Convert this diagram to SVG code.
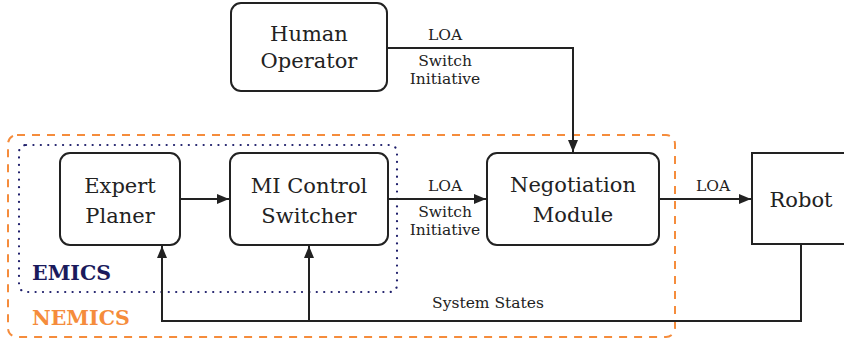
<svg xmlns="http://www.w3.org/2000/svg" width="844" height="342" viewBox="0 0 844 342">
  <defs>
    <marker id="arrow" viewBox="0 0 12 10" refX="12" refY="5" markerWidth="12" markerHeight="10" markerUnits="userSpaceOnUse" orient="auto">
      <path d="M0,0 L12,5 L0,10 Z" fill="#222"/>
    </marker>
    <style>
      .box { fill: #fff; stroke: #222; stroke-width: 2; }
      .node { font-family: "DejaVu Serif", "Liberation Serif", serif; font-size: 21px; fill: #222; text-anchor: middle; }
      .lbl { font-family: "DejaVu Serif", "Liberation Serif", serif; font-size: 15.5px; fill: #222; text-anchor: middle; }
      .wire { fill: none; stroke: #222; stroke-width: 2; }
      .grp { font-family: "DejaVu Serif", "Liberation Serif", serif; font-size: 20.5px; font-weight: bold; }
    </style>
  </defs>

  <!-- group frames -->
  <rect id="nemics-frame" x="8" y="135" width="667" height="202" rx="9" fill="none" stroke="#f58c3c" stroke-width="2" stroke-dasharray="8 7"/>
  <rect id="emics-frame" x="19" y="145" width="378" height="147" rx="7" fill="none" stroke="#1f1f6b" stroke-width="2.2" stroke-dasharray="0.1 7.3" stroke-linecap="round"/>
  <text class="grp" x="32" y="280" fill="#1a1a5c">EMICS</text>
  <text class="grp" x="32" y="325" fill="#f58c3c">NEMICS</text>

  <!-- connectors -->
  <g id="connectors">
    <path class="wire" d="M387,48 H573 V152" marker-end="url(#arrow)"/>
    <path class="wire" d="M180,199 H229" marker-end="url(#arrow)"/>
    <path class="wire" d="M388,199 H486" marker-end="url(#arrow)"/>
    <path class="wire" d="M659,199 H751" marker-end="url(#arrow)"/>
    <path class="wire" d="M801,245 V321 H162 V246" marker-end="url(#arrow)"/>
    <path class="wire" d="M309,321 V246" marker-end="url(#arrow)"/>
    <text class="lbl" x="445" y="40">LOA</text>
    <text class="lbl" x="445" y="66">Switch</text>
    <text class="lbl" x="445" y="84">Initiative</text>
    <text class="lbl" x="445" y="191">LOA</text>
    <text class="lbl" x="445" y="217">Switch</text>
    <text class="lbl" x="445" y="235">Initiative</text>
    <text class="lbl" x="713" y="191">LOA</text>
    <text class="lbl" x="488" y="308">System States</text>
  </g>

  <!-- nodes -->
  <g id="human-operator">
    <rect class="box" x="231" y="3" width="156" height="88" rx="10"/>
    <text class="node" x="309" y="41">Human</text>
    <text class="node" x="309" y="68">Operator</text>
  </g>
  <g id="expert-planer">
    <rect class="box" x="60" y="153" width="120" height="92" rx="10"/>
    <text class="node" x="120" y="193">Expert</text>
    <text class="node" x="120" y="223">Planer</text>
  </g>
  <g id="mi-control-switcher">
    <rect class="box" x="230" y="153" width="158" height="92" rx="10"/>
    <text class="node" x="309" y="193">MI Control</text>
    <text class="node" x="309" y="223">Switcher</text>
  </g>
  <g id="negotiation-module">
    <rect class="box" x="487" y="153" width="172" height="92" rx="10"/>
    <text class="node" x="573" y="192">Negotiation</text>
    <text class="node" x="573" y="222">Module</text>
  </g>
  <g id="robot">
    <rect class="box" x="752" y="153" width="100" height="91"/>
    <text class="node" x="801" y="207">Robot</text>
  </g>
</svg>
